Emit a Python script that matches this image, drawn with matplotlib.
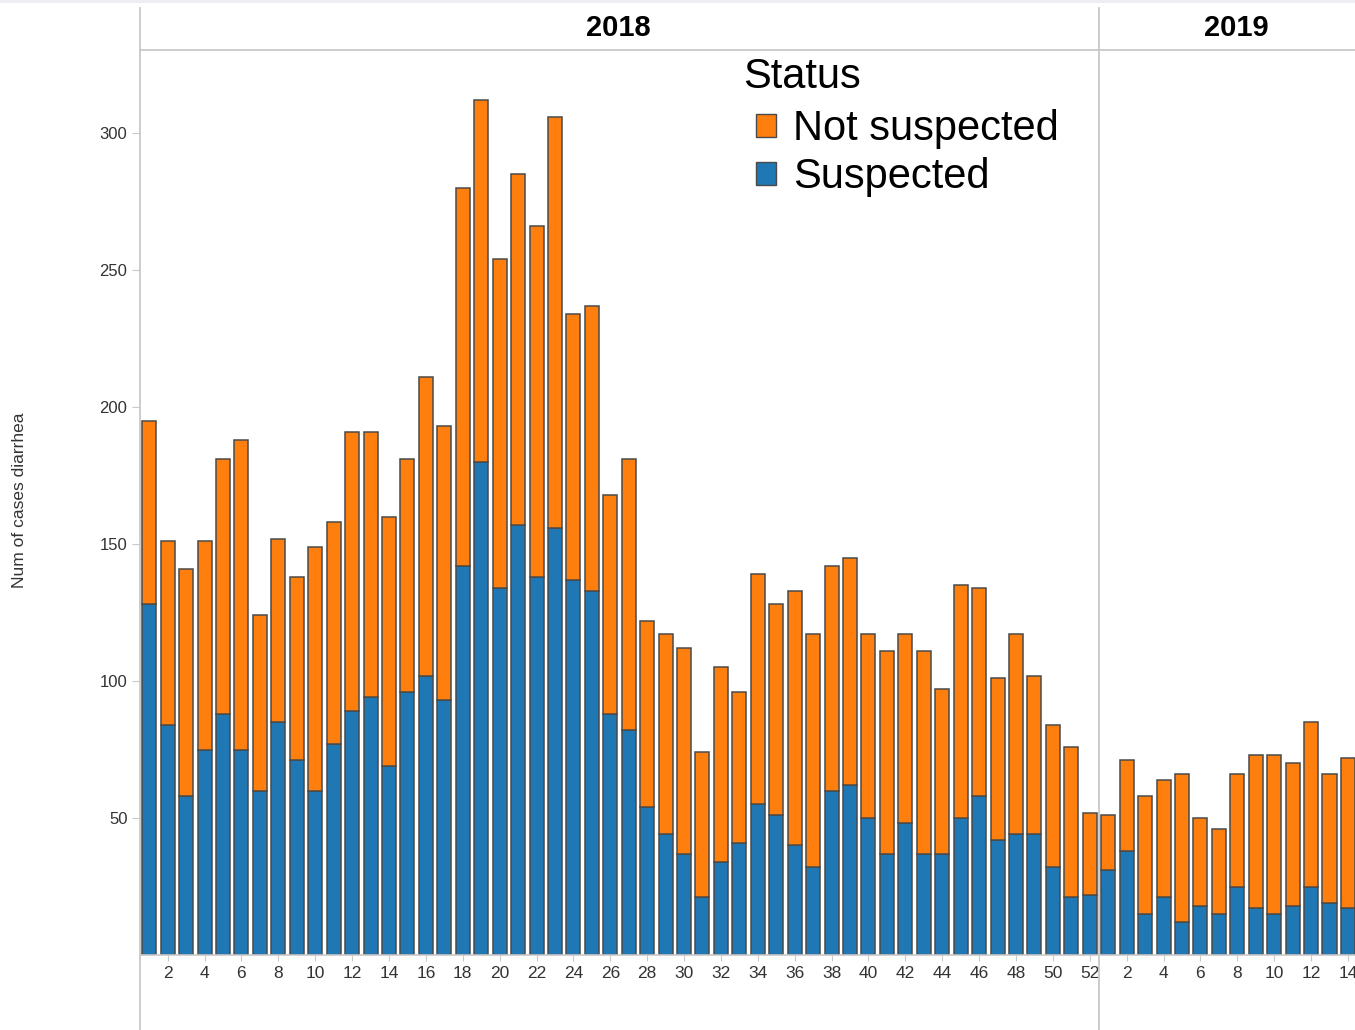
import numpy as np
import matplotlib
matplotlib.use("Agg")
import matplotlib.pyplot as plt
from matplotlib.patches import Patch, Rectangle
from matplotlib.lines import Line2D

plt.rcParams['font.family'] = ['Liberation Sans', 'DejaVu Sans']

# datos (casos por semana)
weeks_2018 = list(range(1, 53))
suspected_2018 = [128, 84, 58, 75, 88, 75, 60, 85, 71, 60, 77, 89, 94, 69, 96, 102, 93, 142, 180, 134,
                  157, 138, 156, 137, 133, 88, 82, 54, 44, 37, 21, 34, 41, 55, 51, 40, 32, 60, 62, 50,
                  37, 48, 37, 37, 50, 58, 42, 44, 44, 32, 21, 22]
total_2018 = [195, 151, 141, 151, 181, 188, 124, 152, 138, 149, 158, 191, 191, 160, 181, 211, 193, 280, 312, 254,
              285, 266, 306, 234, 237, 168, 181, 122, 117, 112, 74, 105, 96, 139, 128, 133, 117, 142, 145, 117,
              111, 117, 111, 97, 135, 134, 101, 117, 102, 84, 76, 52]

weeks_2019 = list(range(1, 15))
suspected_2019 = [31, 38, 15, 21, 12, 18, 15, 25, 17, 15, 18, 25, 19, 17]
total_2019 = [51, 71, 58, 64, 66, 50, 46, 66, 73, 73, 70, 85, 66, 72]

not_suspected_2018 = [t - s for t, s in zip(total_2018, suspected_2018)]
not_suspected_2019 = [t - s for t, s in zip(total_2019, suspected_2019)]

yticks = [50, 100, 150, 200, 250, 300]

blue = '#1f77b4'
orange = '#ff7f0e'
edge = '#4a4a4a'
grey = '#c8c8c8'
txt = '#333333'

W, H = 1355, 1030
fig = plt.figure(figsize=(W / 100, H / 100), dpi=100)

x0, xsep, x1 = 140, 1099, 1355
ybase, ytop = 955, 50
px_per_unit = 2.74
ymax = (ybase - ytop) / px_per_unit
bar_px = 18.44

ax1 = fig.add_axes([x0 / W, (H - ybase) / H, (xsep - x0) / W, (ybase - ytop) / H])
ax2 = fig.add_axes([xsep / W, (H - ybase) / H, (x1 - xsep) / W, (ybase - ytop) / H])

for ax, weeks, susp, notsusp in [(ax1, weeks_2018, suspected_2018, not_suspected_2018),
                                  (ax2, weeks_2019, suspected_2019, not_suspected_2019)]:
    ax.bar(weeks, susp, width=0.76, color=blue, edgecolor=edge, linewidth=1.1)
    ax.bar(weeks, notsusp, bottom=susp, width=0.76, color=orange, edgecolor=edge, linewidth=1.1)
    ax.set_ylim(0, ymax)
    for s in ['top', 'right', 'left']:
        ax.spines[s].set_visible(False)
    ax.spines['bottom'].set_color(grey)
    ax.spines['bottom'].set_linewidth(1.2)
    ax.set_xticks(weeks[1::2])
    ax.tick_params(axis='x', length=4, color=grey, labelsize=12.5, labelcolor=txt, pad=4)

ax1.set_xlim(0.5, 52.5)
ax2.set_xlim(0.5, 0.5 + (x1 - xsep) / bar_px)

ax1.set_yticks(yticks)
ax1.tick_params(axis='y', length=6, color=grey, labelsize=12, labelcolor=txt, pad=3)
ax2.set_yticks([])

# lineas del encabezado y separadores
fig.add_artist(Line2D([x0 / W, x0 / W], [0, 1 - 8 / H], color=grey, lw=1.3))
fig.add_artist(Line2D([xsep / W, xsep / W], [0, 1 - 8 / H], color=grey, lw=1.3))
fig.add_artist(Line2D([x0 / W, 1], [1 - ytop / H, 1 - ytop / H], color=grey, lw=1.3))
fig.add_artist(Rectangle((0, 1 - 3 / H), 1, 3 / H, color='#eceef2', lw=0))

fig.text(618 / W, 1 - 28 / H, '2018', ha='center', va='center', fontsize=21, fontweight='bold', color='black')
fig.text(1236 / W, 1 - 28 / H, '2019', ha='center', va='center', fontsize=21, fontweight='bold', color='black')

fig.text(20 / W, 1 - 500 / H, 'Num of cases diarrhea', rotation=90, ha='center', va='center',
         fontsize=12.5, color=txt)

# leyenda
fig.text(743 / W, 1 - 77 / H, 'Status', ha='left', va='center', fontsize=30, color='black')
handles = [Patch(facecolor=orange, edgecolor=edge, label='Not suspected'),
           Patch(facecolor=blue, edgecolor=edge, label='Suspected')]
leg = fig.legend(handles=handles, loc='upper left', bbox_to_anchor=(756 / W, 1 - 109 / H),
                 fontsize=30, frameon=False, handlelength=0.48, handleheight=0.48,
                 handletextpad=0.4, labelspacing=0.2, borderpad=0, borderaxespad=0)

fig.savefig('out.png', dpi=100)
